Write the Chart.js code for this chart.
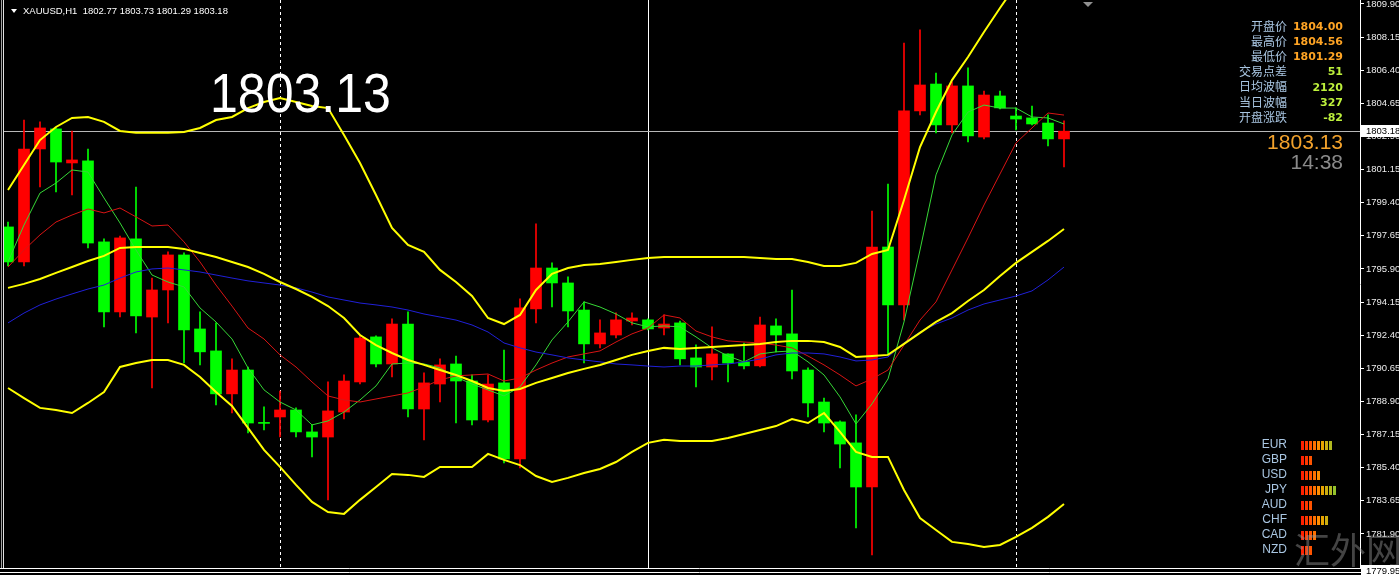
<!DOCTYPE html>
<html lang="zh">
<head>
    <meta charset="UTF-8">
    <title>XAUUSD,H1</title>
    <script src="https://cdn.jsdelivr.net/npm/chart.js"></script>
    <style>
        html, body { margin: 0; padding: 0; background: #000; }
        .wrap { width: 1399px; height: 575px; position: relative; }
    </style>
</head>
<body>
<div class="wrap"><canvas id="chart"></canvas></div>
<script>
    // XAUUSD H1 candles, oldest first
    const opens = [
        1798.12, 1796.27, 1802.24, 1803.30, 1801.50, 1801.61, 1797.33, 1793.63, 1797.49, 1793.36,
        1794.79, 1796.64, 1792.73, 1791.57, 1789.30, 1790.56, 1787.76, 1788.08, 1788.45, 1787.29,
        1787.02, 1788.34, 1789.93, 1792.31, 1790.88, 1792.99, 1788.50, 1789.82, 1790.88, 1789.98,
        1787.92, 1789.88, 1785.86, 1793.79, 1795.95, 1795.16, 1793.73, 1791.94, 1792.41, 1793.15,
        1793.21, 1792.78, 1793.05, 1791.20, 1790.72, 1791.41, 1790.99, 1790.78, 1792.89, 1792.47,
        1790.56, 1788.87, 1787.82, 1786.71, 1784.38, 1797.06, 1794.00, 1804.25, 1805.67, 1803.51,
        1805.57, 1802.87, 1805.04, 1803.98, 1803.88, 1803.61, 1802.77
    ];
    const highs = [
        1798.38, 1803.77, 1803.67, 1803.35, 1803.19, 1802.24, 1797.49, 1797.64, 1800.23, 1795.42,
        1796.80, 1796.75, 1793.63, 1793.05, 1791.15, 1790.72, 1788.61, 1789.45, 1788.56, 1787.66,
        1789.93, 1790.30, 1792.41, 1792.36, 1793.26, 1793.63, 1790.41, 1791.15, 1791.30, 1790.30,
        1790.30, 1791.62, 1794.32, 1798.28, 1796.22, 1795.48, 1794.16, 1793.21, 1793.58, 1793.58,
        1793.26, 1793.47, 1793.15, 1791.89, 1792.84, 1791.41, 1791.99, 1793.36, 1793.26, 1794.79,
        1790.67, 1789.08, 1787.87, 1788.19, 1798.96, 1800.39, 1807.84, 1808.53, 1806.25, 1805.78,
        1806.52, 1805.30, 1805.30, 1804.41, 1804.51, 1804.04, 1803.73
    ];
    const lows = [
        1796.06, 1796.06, 1800.23, 1799.97, 1799.81, 1797.01, 1792.84, 1793.36, 1792.52, 1789.61,
        1793.05, 1790.93, 1790.83, 1788.72, 1788.29, 1787.24, 1787.39, 1787.02, 1787.02, 1785.97,
        1783.70, 1787.97, 1789.82, 1790.72, 1790.19, 1788.08, 1786.87, 1788.87, 1787.76, 1787.66,
        1787.82, 1785.65, 1785.39, 1793.05, 1793.89, 1792.84, 1790.93, 1791.73, 1792.25, 1792.94,
        1792.68, 1792.41, 1790.83, 1789.67, 1790.04, 1789.93, 1790.62, 1790.72, 1791.52, 1790.09,
        1788.08, 1787.29, 1785.39, 1782.22, 1780.79, 1791.36, 1793.21, 1804.04, 1803.09, 1803.09,
        1802.61, 1802.77, 1804.35, 1803.24, 1803.51, 1802.40, 1801.29
    ];
    const closes = [
        1796.27, 1802.24, 1803.35, 1801.55, 1801.66, 1797.27, 1793.63, 1797.54, 1793.42, 1794.79,
        1796.64, 1792.68, 1791.52, 1789.30, 1790.56, 1787.76, 1787.74, 1788.45, 1787.29, 1787.02,
        1788.40, 1789.98, 1792.25, 1790.88, 1792.99, 1788.50, 1789.88, 1790.83, 1789.98, 1787.92,
        1789.82, 1785.86, 1793.84, 1795.95, 1795.16, 1793.68, 1791.94, 1792.52, 1793.21, 1793.31,
        1792.73, 1792.99, 1791.15, 1790.72, 1791.41, 1790.93, 1790.78, 1792.94, 1792.41, 1790.51,
        1788.82, 1787.76, 1786.65, 1784.38, 1797.06, 1794.00, 1804.25, 1805.62, 1803.51, 1805.57,
        1802.93, 1805.09, 1804.41, 1803.82, 1803.56, 1802.77, 1803.18
    ];

    // Bollinger bands (yellow)
    const bbUpper = [
        1800.07, 1801.39, 1802.71, 1803.40, 1803.88, 1803.93, 1803.67, 1803.19, 1803.09, 1803.09,
        1803.09, 1803.14, 1803.35, 1803.77, 1803.93, 1804.40, 1804.72, 1804.93, 1804.72, 1804.51,
        1804.40, 1802.98, 1801.50, 1799.81, 1798.07, 1797.17, 1796.80, 1795.85, 1795.21, 1794.47,
        1793.31, 1792.99, 1793.47, 1794.79, 1795.64, 1795.95, 1796.11, 1796.16, 1796.27, 1796.38,
        1796.48, 1796.53, 1796.53, 1796.53, 1796.53, 1796.53, 1796.53, 1796.48, 1796.43, 1796.43,
        1796.27, 1796.06, 1796.06, 1796.22, 1796.69, 1796.90, 1799.54, 1802.34, 1804.19, 1805.88,
        1807.10, 1808.42, 1809.69, 1810.90, 1811.59, 1812.12, 1812.49
    ];
    const bbMiddle = [
        1794.90, 1795.11, 1795.37, 1795.69, 1796.00, 1796.32, 1796.59, 1797.01, 1797.06, 1797.06,
        1797.06, 1796.96, 1796.74, 1796.53, 1796.27, 1796.00, 1795.64, 1795.21, 1794.84, 1794.42,
        1793.94, 1793.31, 1792.41, 1791.88, 1791.46, 1791.09, 1790.83, 1790.56, 1790.30, 1789.98,
        1789.61, 1789.45, 1789.56, 1789.88, 1790.14, 1790.40, 1790.62, 1790.83, 1791.09, 1791.36,
        1791.57, 1791.73, 1791.67, 1791.73, 1791.78, 1791.83, 1791.88, 1791.94, 1792.04, 1792.10,
        1792.10, 1792.04, 1791.78, 1791.25, 1791.30, 1791.36, 1791.94, 1792.52, 1793.10, 1793.57,
        1794.21, 1794.79, 1795.53, 1796.22, 1796.80, 1797.38, 1798.01
    ];
    const bbLower = [
        1789.61, 1789.08, 1788.56, 1788.45, 1788.29, 1788.82, 1789.40, 1790.72, 1790.93, 1791.09,
        1791.09, 1790.83, 1790.19, 1789.40, 1788.66, 1787.50, 1786.34, 1785.44, 1784.49, 1783.59,
        1783.06, 1782.96, 1783.70, 1784.38, 1785.07, 1785.02, 1784.91, 1785.44, 1785.44, 1785.44,
        1786.13, 1785.81, 1785.54, 1784.96, 1784.65, 1784.86, 1785.12, 1785.33, 1785.70, 1786.23,
        1786.71, 1786.87, 1786.81, 1786.81, 1786.81, 1786.97, 1787.18, 1787.39, 1787.60, 1787.97,
        1787.76, 1788.29, 1787.29, 1786.23, 1785.97, 1785.97, 1784.22, 1782.74, 1782.11, 1781.48,
        1781.37, 1781.21, 1781.32, 1781.74, 1782.22, 1782.80, 1783.48
    ];

    // moving averages: fast (green), mid (red), slow (blue)
    const maFast = [
        1796.27, 1798.22, 1799.91, 1800.44, 1801.13, 1801.02, 1799.65, 1798.33, 1796.90, 1795.58,
        1795.21, 1794.95, 1793.84, 1793.10, 1792.20, 1790.67, 1789.51, 1788.87, 1788.45, 1787.66,
        1787.87, 1788.34, 1788.98, 1789.72, 1790.88, 1790.93, 1790.88, 1790.67, 1790.19, 1789.82,
        1789.51, 1789.19, 1789.67, 1790.83, 1792.15, 1793.10, 1794.16, 1793.89, 1793.52, 1793.05,
        1792.84, 1792.89, 1792.84, 1792.31, 1791.73, 1791.30, 1790.99, 1791.41, 1791.52, 1791.57,
        1790.99, 1790.30, 1789.14, 1787.71, 1788.77, 1790.09, 1793.10, 1796.90, 1800.87, 1802.98,
        1804.19, 1804.56, 1804.40, 1804.40, 1803.93, 1803.88, 1803.56
    ];
    const maMid = [
        1796.00, 1796.90, 1797.70, 1798.38, 1798.75, 1799.07, 1798.86, 1799.12, 1798.65, 1798.17,
        1798.22, 1797.33, 1796.27, 1795.05, 1793.94, 1792.78, 1792.20, 1791.36, 1790.72, 1789.93,
        1789.19, 1788.98, 1788.87, 1789.03, 1789.19, 1789.35, 1789.67, 1790.04, 1790.25, 1790.30,
        1790.35, 1789.98, 1790.14, 1790.56, 1790.93, 1791.25, 1791.41, 1791.57, 1792.04, 1792.47,
        1792.78, 1793.47, 1793.31, 1792.62, 1792.31, 1792.10, 1792.04, 1791.99, 1791.88, 1791.73,
        1791.30, 1790.83, 1790.30, 1789.72, 1790.09, 1790.56, 1791.88, 1793.20, 1794.16, 1795.85,
        1797.54, 1799.28, 1800.92, 1802.56, 1803.35, 1804.14, 1804.03
    ];
    const maSlow = [
        1793.05, 1793.57, 1794.00, 1794.31, 1794.58, 1794.84, 1795.05, 1795.42, 1795.74, 1795.90,
        1795.95, 1795.85, 1795.74, 1795.58, 1795.42, 1795.27, 1795.16, 1795.05, 1794.90, 1794.68,
        1794.42, 1794.26, 1794.10, 1794.00, 1793.89, 1793.73, 1793.52, 1793.36, 1793.20, 1792.94,
        1792.57, 1791.99, 1791.73, 1791.51, 1791.36, 1791.20, 1791.09, 1790.99, 1790.88, 1790.83,
        1790.77, 1790.72, 1790.77, 1790.77, 1790.83, 1790.88, 1790.99, 1791.14, 1791.36, 1791.46,
        1791.46, 1791.41, 1791.25, 1791.04, 1791.09, 1791.25, 1791.99, 1792.57, 1792.99, 1793.31,
        1793.73, 1794.05, 1794.26, 1794.47, 1794.74, 1795.32, 1796.00
    ];

    // price axis
    const priceTicks = [
        1809.90, 1808.15, 1806.40, 1804.65, 1802.90, 1801.15, 1799.40, 1797.65, 1795.90,
        1794.15, 1792.40, 1790.65, 1788.90, 1787.15, 1785.40, 1783.65, 1781.90
    ];
    const bidPrice = 1803.18;
    const bottomPrice = 1779.95;

    // period separators (bar index)
    const dashedSeparators = [17, 63];
    const solidSeparators = [40];

    // texts
    const headerText = 'XAUUSD,H1  1802.77 1803.73 1801.29 1803.18';
    const bigPrice = '1803.13';
    const infoLabels = ['开盘价', '最高价', '最低价', '交易点差', '日均波幅', '当日波幅', '开盘涨跌'];
    const infoValues = ['1804.00', '1804.56', '1801.29', '51', '2120', '327', '-82'];
    const lastPrice = '1803.13';
    const clockText = '14:38';

    // currency strength panel
    const currencies = ['EUR', 'GBP', 'USD', 'JPY', 'AUD', 'CHF', 'CAD', 'NZD'];
    const strength = [8, 3, 5, 9, 3, 7, 4, 3];

    const BULL = '#ff0000';
    const BEAR = '#00ff00';
    const candleColors = closes.map((c, i) => c >= opens[i] ? BULL : BEAR);
    const strengthColors = ['#ff2000', '#ff3800', '#ff5400', '#ff7000', '#ff8c00', '#e8a400', '#ccae10', '#b0b820', '#94c22c'];

    const points = arr => arr.map((v, i) => ({ x: i, y: v }));

    function lineSet(data, color, width, order) {
        return {
            type: 'line',
            data: points(data),
            borderColor: color,
            borderWidth: width,
            pointRadius: 0,
            tension: 0,
            fill: false,
            order: order
        };
    }

    const overlay = {
        id: 'overlay',
        beforeDatasetsDraw(chart) {
            const { ctx, chartArea: a, scales: { x, y } } = chart;
            ctx.save();
            ctx.lineWidth = 1;
            ctx.strokeStyle = '#ffffff';
            ctx.setLineDash([3, 3]);
            dashedSeparators.forEach(i => {
                const px = Math.round(x.getPixelForValue(i)) + 0.5;
                ctx.beginPath();
                ctx.moveTo(px, a.top);
                ctx.lineTo(px, a.bottom);
                ctx.stroke();
            });
            ctx.setLineDash([]);
            solidSeparators.forEach(i => {
                const px = Math.round(x.getPixelForValue(i)) + 0.5;
                ctx.beginPath();
                ctx.moveTo(px, a.top);
                ctx.lineTo(px, a.bottom);
                ctx.stroke();
            });
            // bid line
            const py = Math.round(y.getPixelForValue(bidPrice)) + 0.5;
            ctx.strokeStyle = '#b8b8b8';
            ctx.beginPath();
            ctx.moveTo(a.left, py);
            ctx.lineTo(a.right, py);
            ctx.stroke();
            ctx.restore();
        },
        afterDraw(chart) {
            const { ctx, chartArea: a, scales: { y } } = chart;
            const W = chart.width;
            ctx.save();

            // window frame
            ctx.lineWidth = 1;
            ctx.strokeStyle = '#a0a0a0';
            ctx.beginPath(); ctx.moveTo(1.5, 0); ctx.lineTo(1.5, a.bottom); ctx.stroke();
            ctx.strokeStyle = '#e0e0e0';
            ctx.beginPath(); ctx.moveTo(3.5, 0); ctx.lineTo(3.5, a.bottom); ctx.stroke();
            ctx.strokeStyle = '#ffffff';
            ctx.beginPath(); ctx.moveTo(0, a.bottom + 0.5); ctx.lineTo(W, a.bottom + 0.5); ctx.stroke();
            ctx.beginPath(); ctx.moveTo(0, a.bottom + 4.5); ctx.lineTo(W, a.bottom + 4.5); ctx.stroke();

            // header
            ctx.fillStyle = '#ffffff';
            ctx.beginPath();
            ctx.moveTo(11, 9); ctx.lineTo(17, 9); ctx.lineTo(14, 13); ctx.closePath();
            ctx.fill();
            ctx.font = '9.5px "Liberation Sans"';
            ctx.textBaseline = 'middle';
            ctx.textAlign = 'left';
            ctx.fillText(headerText, 23, 11);

            // shift marker
            ctx.fillStyle = '#909090';
            ctx.beginPath();
            ctx.moveTo(1083, 2); ctx.lineTo(1093, 2); ctx.lineTo(1088, 7); ctx.closePath();
            ctx.fill();

            // big price label
            ctx.save();
            ctx.translate(210, 112);
            ctx.scale(0.91, 1);
            ctx.font = '55px "Liberation Sans"';
            ctx.textBaseline = 'alphabetic';
            ctx.fillStyle = '#ffffff';
            ctx.fillText(bigPrice, 0, 0);
            ctx.restore();

            // info panel
            ctx.textBaseline = 'middle';
            infoLabels.forEach((t, i) => {
                const ty = 26 + i * 15.2;
                ctx.textAlign = 'right';
                ctx.font = '12px "Noto Sans CJK SC"';
                ctx.fillStyle = '#a9c6e2';
                ctx.fillText(t, 1287, ty);
                ctx.font = 'bold 11px "DejaVu Sans"';
                ctx.fillStyle = i < 3 ? '#ffa424' : '#bdf03c';
                ctx.fillText(infoValues[i], 1343, ty + 1);
            });
            ctx.font = '21px "Liberation Sans"';
            ctx.textAlign = 'right';
            ctx.fillStyle = '#f3a22c';
            ctx.fillText(lastPrice, 1343, 143);
            ctx.fillStyle = '#8a8a8a';
            ctx.fillText(clockText, 1343, 163);

            // currency strength
            currencies.forEach((c, i) => {
                const ty = 445 + i * 15;
                ctx.font = '12px "Liberation Sans"';
                ctx.fillStyle = '#a9c6e2';
                ctx.textAlign = 'right';
                ctx.fillText(c, 1287, ty);
                for (let k = 0; k < strength[i]; k++) {
                    ctx.fillStyle = strengthColors[k];
                    ctx.fillRect(1301 + k * 4, ty - 4, 3, 9);
                }
            });

            // watermark
            ctx.font = '36px "Noto Sans CJK SC"';
            ctx.textAlign = 'left';
            ctx.textBaseline = 'alphabetic';
            ctx.fillStyle = 'rgba(150, 150, 150, 0.45)';
            ctx.fillText('汇外网', 1294, 564);

            // axis price boxes
            ctx.font = '9.5px "Liberation Sans"';
            ctx.textAlign = 'left';
            ctx.textBaseline = 'middle';
            [bidPrice, bottomPrice].forEach(p => {
                const py = Math.round(y.getPixelForValue(p));
                ctx.fillStyle = '#ffffff';
                ctx.fillRect(a.right + 1, py - 6, W - a.right - 1, 12);
                ctx.fillStyle = '#000000';
                ctx.fillText(p.toFixed(2), a.right + 6, py);
            });

            ctx.restore();
        }
    };

    new Chart(document.getElementById('chart'), {
        type: 'bar',
        data: {
            datasets: [
                lineSet(bbUpper, '#ffff00', 2, 1),
                lineSet(bbMiddle, '#ffff00', 2, 1),
                lineSet(bbLower, '#ffff00', 2, 1),
                lineSet(maSlow, '#2020d8', 1, 2),
                lineSet(maMid, '#d81414', 1, 3),
                lineSet(maFast, '#36d836', 1, 4),
                {
                    label: 'body',
                    data: opens.map((o, i) => ({ x: i, y: [o, closes[i]] })),
                    backgroundColor: candleColors,
                    barThickness: 11,
                    minBarLength: 1,
                    grouped: false,
                    borderWidth: 0,
                    order: 10
                },
                {
                    label: 'wick',
                    data: lows.map((l, i) => ({ x: i, y: [l, highs[i]] })),
                    backgroundColor: candleColors,
                    barThickness: 1,
                    grouped: false,
                    borderWidth: 0,
                    order: 11
                }
            ]
        },
        options: {
            responsive: true,
            maintainAspectRatio: false,
            animation: false,
            devicePixelRatio: 1,
            layout: { padding: { left: 4, right: 0, top: 0, bottom: 7 } },
            plugins: { legend: { display: false }, tooltip: { enabled: false } },
            scales: {
                x: {
                    type: 'linear',
                    display: false,
                    offset: false,
                    min: -0.25,
                    max: 84.5
                },
                y: {
                    position: 'right',
                    min: 1780.10,
                    max: 1810.11,
                    border: { display: true, color: '#ffffff', width: 1 },
                    grid: { drawOnChartArea: false, drawTicks: true, tickLength: 4, color: '#ffffff' },
                    ticks: {
                        color: '#ececec',
                        padding: 2,
                        font: { family: 'Liberation Sans', size: 9.5 },
                        callback: v => v.toFixed(2)
                    },
                    afterBuildTicks: scale => {
                        scale.ticks = priceTicks.map(v => ({ value: v }));
                    },
                    afterFit: scale => {
                        scale.width = 39;
                        scale.paddingTop = 0;
                        scale.paddingBottom = 0;
                    }
                }
            }
        },
        plugins: [overlay]
    });
</script>
</body>
</html>
